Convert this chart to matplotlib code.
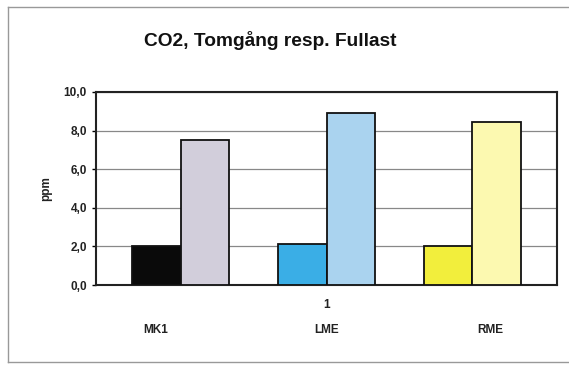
import matplotlib
matplotlib.use('Agg')
import matplotlib.pyplot as plt
from matplotlib.lines import Line2D

plt.rcParams['font.family'] = ['Liberation Sans', 'DejaVu Sans']

# data
fuels = ['MK1', 'LME', 'RME']
tomgang = [2.0, 2.1, 2.0]
fullast = [7.5, 8.9, 8.45]
tomgang_colors = ['#0a0a0a', '#3aaee6', '#f2ee3c']
fullast_colors = ['#d2cedb', '#aad3ef', '#fcf9b0']
yticks = [0, 2, 4, 6, 8, 10]

fig = plt.figure(figsize=(5.69, 3.65), dpi=100)
ax = fig.add_axes([96/569, 1-285/365, (557-96)/569, (285-92)/365])

centers = [0, 3, 6]
for i in range(len(fuels)):
    ax.bar(centers[i]-0.5, tomgang[i], width=1.0, color=tomgang_colors[i],
           edgecolor='#111111', linewidth=1.3, zorder=3)
    ax.bar(centers[i]+0.5, fullast[i], width=1.0, color=fullast_colors[i],
           edgecolor='#111111', linewidth=1.3, zorder=3)

ax.set_xlim(-1.75, 7.75)
ax.set_ylim(0, 10)
ax.set_yticks(yticks)
ax.set_yticklabels([('%.1f' % v).replace('.', ',') for v in yticks],
                   fontsize=8.5, fontweight='bold', color='#222222')
ax.yaxis.set_tick_params(length=3, width=1)
ax.set_xticks([3])
ax.set_xticklabels(['1'], fontsize=8.5, fontweight='bold', color='#222222')
ax.tick_params(axis='x', length=0, pad=10)
ax.grid(axis='y', color='#888888', linewidth=0.9, zorder=0)
for s in ax.spines.values():
    s.set_linewidth(1.5)
    s.set_color('#222222')
ax.set_ylabel('ppm', fontsize=8.5, fontweight='bold', labelpad=8, color='#222222')

for i, name in enumerate(fuels):
    xpos = [156, 327, 490][i]
    fig.text(xpos/569, 1-330/365, name, ha='center', va='center',
             fontsize=8.5, fontweight='bold', color='#222222')

fig.text(270/569, 1-40/365, 'CO2, Tomgång resp. Fullast', ha='center', va='center',
         fontsize=13.8, fontweight='bold', color='#111111')

# outer frame (left, top, bottom only; right edge is cut off)
x0, x1 = 8/569, 1.0
y0, y1 = 1-362/365, 1-7/365
for xs, ys in [([x0, x0], [y0, y1]), ([x0, x1], [y1, y1]), ([x0, x1], [y0, y0])]:
    fig.lines.append(Line2D(xs, ys, transform=fig.transFigure,
                            color='#999999', linewidth=1))

fig.savefig('out.png', dpi=100)
